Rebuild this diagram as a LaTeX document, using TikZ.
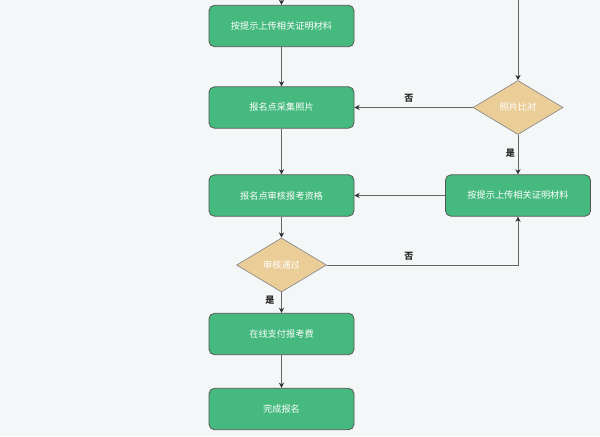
\documentclass[tikz,border=0pt]{standalone}
\usepackage{fontspec}
\newfontfamily\cjk{Noto Sans CJK SC}
\usetikzlibrary{shapes.geometric,arrows.meta}
\definecolor{bg}{HTML}{F4F7F7}
\definecolor{gfill}{HTML}{46BA7E}
\definecolor{dfill}{HTML}{EBCD98}
\definecolor{bord}{HTML}{555555}
\definecolor{lin}{HTML}{666666}
\tikzset{
  px/.style={x=0.75pt,y=-0.75pt},
  gbox/.style={draw=bord,line width=0.6pt,fill=gfill,rounded corners=4pt,minimum width=108.75pt,minimum height=31pt,inner sep=0pt,text=white,font=\cjk\fontsize{6.9}{8}\selectfont},
  dia/.style={diamond,draw=bord!70,line width=0.5pt,fill=dfill,minimum width=67.5pt,minimum height=40.5pt,aspect=1.67,inner sep=0pt,text=white,font=\cjk\fontsize{6.9}{8}\selectfont},
  conn/.style={draw=lin,line width=0.6pt,-{Stealth[length=4pt,width=4pt,color=black!80]}},
  lbl/.style={font=\cjk\bfseries\fontsize{6.8}{8}\selectfont,text=black!85}
}
\begin{document}
\begin{tikzpicture}[px]
\fill[bg] (0,0) rectangle (600,436);
\useasboundingbox (0,0) rectangle (600,436);
\node[gbox] (b1) at (281.5,26) {按提示上传相关证明材料};
\node[gbox] (b2) at (281.5,107.5) {报名点采集照片};
\node[gbox] (b3) at (281.5,195.5) {报名点审核报考资格};
\node[dia] (d1) at (281.5,265) {审核通过};
\node[gbox] (b4) at (281.5,334) {在线支付报考费};
\node[gbox] (b5) at (281.5,409) {完成报名};
\node[dia] (d2) at (518,107.5) {照片比对};
\node[gbox] (r1) at (518,195.5) {按提示上传相关证明材料};
\coordinate (t1) at (281.5,0);
\coordinate (t2) at (518,0);
\draw[conn] (t1) -- (b1);
\draw[conn] (t2) -- (d2);
\draw[conn] (b1) -- (b2);
\draw[conn] (b2) -- (b3);
\draw[conn] (b3) -- (d1);
\draw[conn] (d1) -- (b4);
\draw[conn] (b4) -- (b5);
\draw[conn] (d2) -- (b2);
\draw[conn] (d2) -- (r1);
\draw[conn] (r1) -- (b3);
\draw[conn] (d1.east) -| (r1.south);
\node[lbl] (l1) at (409,98) {否};
\node[lbl] (l2) at (510.5,153.5) {是};
\node[lbl] (l3) at (409,256.5) {否};
\node[lbl] (l4) at (270,300) {是};
\end{tikzpicture}
\end{document}
